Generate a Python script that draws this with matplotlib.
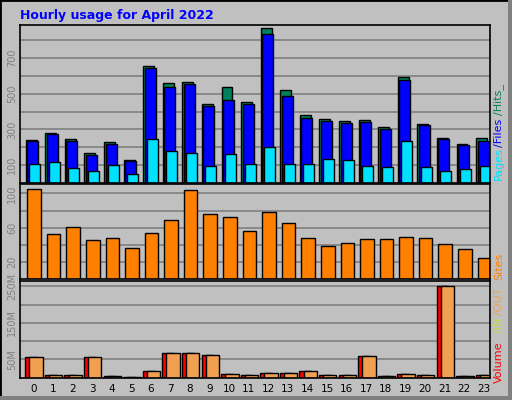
import numpy as np
import matplotlib.pyplot as plt
from matplotlib.patches import Rectangle

hours = list(range(24))
hits = [241, 281, 247, 167, 230, 127, 656, 559, 566, 445, 536, 451,
        866, 519, 383, 360, 348, 354, 315, 593, 332, 252, 218, 252]
files = [235, 273, 235, 156, 218, 125, 644, 536, 555, 434, 464, 440,
         832, 485, 366, 349, 337, 343, 303, 576, 326, 246, 212, 235]
pages = [104, 116, 82, 65, 99, 53, 247, 178, 167, 93, 161, 104,
         201, 104, 104, 133, 127, 93, 87, 235, 87, 65, 76, 93]
sites = [105, 53, 61, 45, 48, 36, 54, 69, 104, 76, 72, 56,
         78, 65, 48, 38, 42, 47, 47, 49, 48, 41, 35, 25]
volume = [56, 8, 8, 56, 5.5, 3, 17, 67, 67, 61, 11, 8,
          14, 14, 17, 8, 8, 58, 5.5, 11, 8, 250, 5.5, 8]  # MB

W, H = 512, 400
BG = '#c0c0c0'
GRID = '#808080'

fig = plt.figure(figsize=(W / 100, H / 100), dpi=100, facecolor=BG)


def px_axes(x0, y0, x1, y1):
    # pixel box (top-left origin) -> figure axes
    ax = fig.add_axes([x0 / W, 1 - y1 / H, (x1 - x0) / W, (y1 - y0) / H])
    ax.set_facecolor(BG)
    ax.set_xlim(0, 24)
    ax.set_xticks([])
    for s in ax.spines.values():
        s.set_color('black')
        s.set_linewidth(1.2)
    ax.tick_params(axis='y', length=0, labelsize=7, labelcolor=GRID, pad=2)
    for lab in ax.get_yticklabels():
        lab.set_rotation(90)
    ax.set_axisbelow(True)
    return ax


x = np.array(hours)
ec = dict(edgecolor='black', linewidth=1, align='edge')

# top panel
ax1 = px_axes(20, 25, 490, 183)
ax1.set_ylim(0, 885)
ax1.set_yticks(range(100, 900, 100))
ax1.set_yticklabels(['100', '', '300', '', '500', '', '700', ''], rotation=90, va='center')
ax1.grid(axis='y', color=GRID, linewidth=1.2)
ax1.bar(x + 0.29, hits, 0.56, color='#00805c', **ec)
ax1.bar(x + 0.37, files, 0.56, color='#0000ff', **ec)
ax1.bar(x + 0.47, pages, 0.56, color='#00e0ff', **ec)

# sites panel
ax2 = px_axes(20, 184, 490, 279)
ax2.set_ylim(0, 111)
ax2.set_yticks(range(20, 111, 20))
ax2.set_yticklabels(['20', '', '60', '', '100'], rotation=90, va='center')
ax2.grid(axis='y', color=GRID, linewidth=1.2)
ax2.bar(x + 0.37, sites, 0.69, color='#ff8000', **ec)

# volume panel
ax3 = px_axes(20, 281, 490, 378)
ax3.set_ylim(-1, 265)
ax3.set_yticks(range(50, 260, 50))
ax3.set_yticklabels(['50M', '', '150M', '', '250M'], rotation=90, va='center')
ax3.grid(axis='y', color=GRID, linewidth=1.2)
ax3.bar(x + 0.27, volume, 0.6, color='#ff0000', **ec)
ax3.bar(x + 0.48, volume, 0.68, color='#f0a050', **ec)
ax3.set_xticks(x + 0.68)
ax3.set_xticklabels([str(h) for h in hours], fontsize=7.5)
ax3.tick_params(axis='x', length=0, pad=4)

# title
fig.text(20 / W, 1 - 15 / H, 'Hourly usage for April 2022', color='#0000ff',
         fontsize=9, fontweight='bold', va='center')


def side_label(parts, bottom_px, xpx=499):
    y = bottom_px
    for txt, col, length in parts:
        fig.text(xpx / W, 1 - y / H, txt, color=col, rotation=90,
                 fontsize=8, va='bottom', ha='center')
        y -= length


side_label([('Pages', '#00e0ff', 33), ('/Files', '#0000ff', 32),
            ('/Hits_', '#00805c', 35)], 180)
side_label([('Sites', '#ff8000', 30)], 280)
side_label([('Volume', '#ff0000', 50), ('/IN', '#c0e040', 18),
            ('/OUT', '#f0a050', 30)], 383)

# frame
fig.patches.append(Rectangle((0, 0), 1, 1, transform=fig.transFigure,
                             fill=False, edgecolor='black', linewidth=2))
fig.patches.append(Rectangle((508 / W, 0), 4 / W, 1, transform=fig.transFigure,
                             facecolor='#808080', edgecolor='none'))
fig.patches.append(Rectangle((0, 0), 1, 4 / H, transform=fig.transFigure,
                             facecolor='#808080', edgecolor='none'))

fig.savefig('out.png', dpi=100, facecolor=BG)
